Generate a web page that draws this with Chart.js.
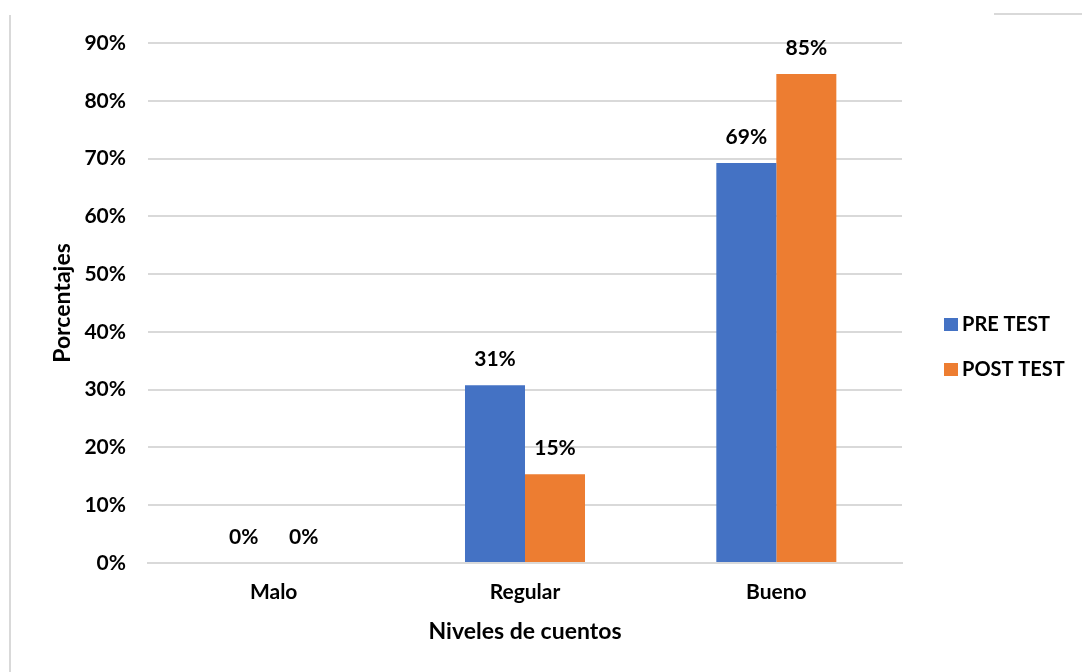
<!DOCTYPE html>
<html>
<head>
<meta charset="utf-8">
<script src="https://cdn.jsdelivr.net/npm/chart.js@4/dist/chart.umd.min.js"></script>
<style>
  html, body { margin: 0; padding: 0; background: #fff; }
  #wrap { position: relative; width: 1082px; height: 672px; }
  #frameLeft { position: absolute; left: 9px; top: 15px; bottom: 0; width: 2px; background: #d9d9d9; }
  #frameTop { position: absolute; left: 994px; right: 0; top: 13px; height: 2px; background: #d9d9d9; }
</style>
</head>
<body>
<div id="wrap">
  <canvas id="chart" width="1082" height="672"></canvas>
  <div id="frameLeft"></div>
  <div id="frameTop"></div>
</div>
<script>
const categories = ['Malo', 'Regular', 'Bueno'];
const preTest = [0, 30.77, 69.23];
const postTest = [0, 15.38, 84.62];
const seriesNames = ['PRE TEST', 'POST TEST'];
const yMax = 90;
const yStep = 10;

const FONT = 'Lato, "Open Sans", sans-serif';

// value labels above each bar
const barLabels = {
    id: 'barLabels',
    afterDatasetsDraw(chart) {
        const ctx = chart.ctx;
        ctx.save();
        ctx.font = 'bold 21px ' + FONT;
        ctx.fillStyle = '#000';
        ctx.textAlign = 'center';
        ctx.textBaseline = 'bottom';
        chart.data.datasets.forEach((ds, i) => {
            chart.getDatasetMeta(i).data.forEach((bar, j) => {
                ctx.fillText(Math.round(ds.data[j]) + '%', bar.x, bar.y - 15);
            });
        });
        ctx.restore();
    }
};

// legend drawn at the right side
const sideLegend = {
    id: 'sideLegend',
    afterDraw(chart) {
        const ctx = chart.ctx;
        ctx.save();
        ctx.font = 'bold 20px ' + FONT;
        ctx.textBaseline = 'middle';
        ctx.textAlign = 'left';
        chart.data.datasets.forEach((ds, i) => {
            const y = 325 + i * 45;
            ctx.fillStyle = ds.backgroundColor;
            ctx.fillRect(944, y - 7, 14, 13);
            ctx.fillStyle = '#000';
            ctx.fillText(ds.label, 962, y);
        });
        ctx.restore();
    }
};

new Chart(document.getElementById('chart').getContext('2d'), {
    type: 'bar',
    data: {
        labels: categories,
        datasets: [
            {
                label: seriesNames[0],
                data: preTest,
                backgroundColor: '#4472C4',
                categoryPercentage: 0.4775,
                barPercentage: 1,
            },
            {
                label: seriesNames[1],
                data: postTest,
                backgroundColor: '#ED7D31',
                categoryPercentage: 0.4775,
                barPercentage: 1,
            }
        ]
    },
    options: {
        responsive: false,
        animation: false,
        layout: {
            padding: { left: 0, right: 180, top: 43, bottom: 0 }
        },
        scales: {
            x: {
                grid: { display: false, drawTicks: false },
                border: { display: true, color: '#d9d9d9', width: 2 },
                ticks: {
                    color: '#000',
                    padding: 17,
                    font: { family: FONT, size: 21, weight: 'bold' }
                },
                title: {
                    display: true,
                    text: 'Niveles de cuentos',
                    color: '#000',
                    padding: { top: 0, bottom: 27 },
                    font: { family: FONT, size: 23, weight: 'bold' }
                },
                afterFit(scale) { scale.height = 109; }
            },
            y: {
                min: 0,
                max: yMax,
                border: { display: false },
                grid: { color: '#d9d9d9', lineWidth: 2, drawTicks: false },
                ticks: {
                    stepSize: yStep,
                    color: '#000',
                    padding: 22,
                    font: { family: FONT, size: 21, weight: 'bold' },
                    callback: v => v + '%'
                },
                title: {
                    display: true,
                    text: 'Porcentajes',
                    color: '#000',
                    padding: { top: 49, bottom: 0 },
                    font: { family: FONT, size: 23, weight: 'bold' }
                },
                afterFit(scale) { scale.width = 148; }
            }
        },
        plugins: {
            legend: { display: false },
            tooltip: { enabled: false }
        }
    },
    plugins: [barLabels, sideLegend]
});
</script>
</body>
</html>
